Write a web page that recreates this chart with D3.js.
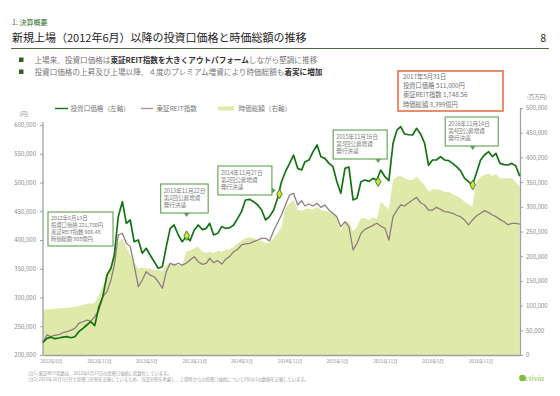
<!DOCTYPE html>
<html>
<head>
<meta charset="utf-8">
<script src="https://cdn.jsdelivr.net/npm/d3@7"></script>
<style>
  body { margin: 0; background: #fff; }
  svg { font-family: "Noto Sans CJK JP", "Noto Sans", sans-serif; }
</style>
</head>
<body>
<svg id="chart" width="560" height="396"></svg>
<script>
// months of the listing period, two samples per month (1st and 16th)
const months = [
  "2012-06", "2012-07", "2012-08", "2012-09", "2012-10", "2012-11", "2012-12",
  "2013-01", "2013-02", "2013-03", "2013-04", "2013-05", "2013-06", "2013-07", "2013-08", "2013-09", "2013-10", "2013-11", "2013-12",
  "2014-01", "2014-02", "2014-03", "2014-04", "2014-05", "2014-06", "2014-07", "2014-08", "2014-09", "2014-10", "2014-11", "2014-12",
  "2015-01", "2015-02", "2015-03", "2015-04", "2015-05", "2015-06", "2015-07", "2015-08", "2015-09", "2015-10", "2015-11", "2015-12",
  "2016-01", "2016-02", "2016-03", "2016-04", "2016-05", "2016-06", "2016-07", "2016-08", "2016-09", "2016-10", "2016-11", "2016-12",
  "2017-01", "2017-02", "2017-03", "2017-04", "2017-05"
];
const lastDate = "2017-05-31";

// 投資口価格 (円)
const price = [
  221750, 229000, 231000, 228400, 229600, 231000, 232000, 230000, 231800, 240500,
  246400, 252200, 257900, 251000, 284000, 301400, 339100, 350800, 373900, 440500,
  466600, 429000, 434800, 397000, 400000, 376900, 385600, 373900, 362300, 350800,
  353600, 388400, 420300, 426100, 408700, 397000, 405700, 399000, 417400, 426100,
  418000, 420300, 429000, 408700, 411600, 423200, 420300, 421000, 426100, 437700,
  449300, 469600, 470700, 466700, 460900, 452200, 434800, 440600, 452200, 472500,
  501400, 518800, 533300, 547800, 524600, 521700, 536200, 539100, 553600, 565200,
  544900, 542000, 533300, 527500, 501400, 481200, 524600, 527000, 469600, 472500,
  501400, 504300, 502000, 507200, 504300, 521700, 510100, 503200, 568100, 591300,
  597100, 584400, 583000, 582600, 594200, 584400, 568100, 530000, 539100, 539100,
  544900, 539100, 538000, 533300, 527500, 520600, 507200, 501400, 495700, 516000,
  539100, 547800, 553600, 544900, 550700, 533300, 531000, 530400, 533300, 528700,
  511000
];

// 東証REIT指数 (points)
const reitIndex = [
  906.48, 960, 948, 958, 962, 976, 983, 995, 1007, 1043,
  1054, 1066, 1058, 1090, 1137, 1232, 1268, 1351, 1457, 1671,
  1683, 1612, 1588, 1457, 1303, 1351, 1410, 1386, 1374, 1339,
  1292, 1410, 1470, 1457, 1470, 1457, 1470, 1493, 1516, 1481,
  1462, 1469, 1505, 1474, 1488, 1464, 1498, 1517, 1552, 1569,
  1600, 1607, 1611, 1623, 1635, 1647, 1647, 1628, 1701, 1758,
  1813, 1884, 1955, 1967, 1884, 1915, 1877, 1891, 1877, 1896,
  1867, 1884, 1848, 1825, 1801, 1730, 1765, 1730, 1564, 1611,
  1682, 1711, 1725, 1739, 1754, 1735, 1718, 1635, 1801, 1848,
  1884, 1877, 1900, 1919, 1938, 1900, 1884, 1848, 1848, 1867,
  1853, 1837, 1834, 1825, 1811, 1801, 1777, 1742, 1777, 1806,
  1825, 1844, 1830, 1813, 1801, 1782, 1765, 1744, 1754, 1754,
  1748.56
];

// 時価総額 (百万円)
const marketCap = [
  90800, 92400, 92800, 93500, 94000, 94500, 95500, 96500, 97000, 99500,
  101000, 103000, 104500, 106000, 121000, 138000, 165000, 179000, 206000, 228000,
  236000, 219000, 202000, 186000, 175000, 177000, 175000, 175000, 172000, 172000,
  169000, 182000, 186000, 186000, 182000, 182000, 209000, 212000, 216000, 219000,
  209000, 207100, 209200, 205800, 211200, 209200, 212500, 213900, 219300, 226000,
  231400, 236200, 238200, 236200, 232800, 231400, 226000, 227400, 236200, 246300,
  259800, 296900, 307000, 313800, 293500, 292200, 294900, 296900, 293500, 300300,
  293500, 292200, 290100, 286800, 280000, 253000, 267900, 269900, 249600, 259800,
  276600, 276600, 273300, 278700, 274600, 310400, 301600, 294900, 354200, 361000,
  362300, 357600, 354200, 354200, 361000, 352900, 344100, 330600, 335300, 335300,
  334000, 330600, 330000, 325900, 321900, 317100, 310400, 305600, 300300, 350900,
  361000, 364400, 367700, 362300, 366400, 357600, 357600, 357600, 357600, 350000,
  339900
];

const xTickLabels = [
  "2012年6月", "2012年11月", "2013年5月", "2013年11月", "2014年5月", "2014年11月",
  "2015年5月", "2015年11月", "2016年5月", "2016年11月", "2017年5月"
];
const leftTicks = [200000, 250000, 300000, 350000, 400000, 450000, 500000, 550000, 600000];
const rightTicks = [0, 50000, 100000, 150000, 200000, 250000, 300000, 350000, 400000, 450000, 500000];

// 公募増資の発行決議 (at = where the reference draws the marker on its trading-day axis)
const offerings = [
  { label: "2013年11月22日", round: "第1回公募増資", at: "2013-12-03", price: 407500 },
  { label: "2014年11月27日", round: "第2回公募増資", at: "2014-11-23", price: 480000 },
  { label: "2015年11月16日", round: "第3回公募増資", at: "2015-12-06", price: 501400 },
  { label: "2016年11月14日", round: "第4回公募増資", at: "2016-12-02", price: 495700 }
];
const ipoLines = ["2012年6月13日", "投資口価格 221,750円", "東証REIT指数 906.48", "時価総額 908億円"];
const latestLines = ["2017年5月31日", "投資口価格 511,000円", "東証REIT指数 1,748.56", "時価総額 3,399億円"];

// layout of the offering call-outs relative to their marker
const calloutLayout = [
  { dx: -26, top: 184, w: 47.5, pointer: "down" },
  { dx: -61.5, top: 166, w: 54, pointer: "right" },
  { dx: -45, top: 130, w: 54, pointer: "down" },
  { dx: -27.5, top: 117, w: 53, pointer: "down" }
];

const parse = d3.timeParse("%Y-%m-%d");
const dates = months.flatMap((m) => [parse(m + "-01"), parse(m + "-16")]);
dates.push(parse(lastDate));

const dataset = dates.map((d, i) => ({
  date: d,
  price: price[i],
  reit: (reitIndex[i] * price[0]) / reitIndex[0],
  cap: marketCap[i]
}));

const svg = d3.select("#chart");
const grey = "#8a8a8a";

// header
svg.append("text").attr("x", 12).attr("y", 24.5)
  .attr("font-size", 7).attr("fill", "#2f6b1f").text("1. 決算概要");
svg.append("text").attr("x", 12).attr("y", 41.5)
  .attr("font-size", 11).attr("fill", "#222")
  .text("新規上場（2012年6月）以降の投資口価格と時価総額の推移");
svg.append("text").attr("x", 546).attr("y", 41.5).attr("text-anchor", "end")
  .attr("font-size", 10).attr("fill", "#222").text("8");
svg.append("line").attr("x1", 11).attr("x2", 549).attr("y1", 48.5).attr("y2", 48.5)
  .attr("stroke", "#4b6b3b").attr("stroke-width", 1.2);

const bullets = [
  [["上場来、投資口価格は", false], ["東証REIT指数を大きくアウトパフォーム", true], ["しながら堅調に推移", false]],
  [["投資口価格の上昇及び上場以降、４度のプレミアム増資により時価総額も", false], ["着実に増加", true]]
];
bullets.forEach((parts, i) => {
  const y = 60 + i * 12;
  svg.append("rect").attr("x", 19).attr("y", y - 2.5).attr("width", 4.5).attr("height", 4.5)
    .attr("fill", "#345f24");
  const t = svg.append("text").attr("x", 34.5).attr("y", y + 2.6).attr("font-size", 7.6);
  parts.forEach(([s, b]) => {
    t.append("tspan").text(s)
      .attr("fill", b ? "#333" : "#777")
      .attr("font-weight", b ? "bold" : "normal");
  });
});

// scales
const x = d3.scaleTime()
  .domain([parse("2012-06-01"), parse("2017-06-01")])
  .range([43, 520]);
const yL = d3.scaleLinear().domain([200000, 600000]).range([355, 125]);
const yR = d3.scaleLinear().domain([0, 500000]).range([355, 108]);

// market cap area
svg.append("path").datum(dataset)
  .attr("fill", "#dfe9aa")
  .attr("d", d3.area().x((d) => x(d.date)).y0(yR(0)).y1((d) => yR(d.cap)));

// axes
const fmt = d3.format(",");
const leftAxis = svg.append("g").attr("transform", "translate(43,0)")
  .call(d3.axisLeft(yL).tickValues(leftTicks).tickSize(3).tickSizeOuter(0).tickPadding(4).tickFormat(fmt));
const rightAxis = svg.append("g").attr("transform", "translate(520,0)")
  .call(d3.axisRight(yR).tickValues(rightTicks).tickSize(3).tickSizeOuter(0).tickPadding(3).tickFormat(fmt));
const tickDates = d3.timeMonth.every(6).range(parse("2012-06-01"), parse("2017-06-02"));
const bottomAxis = svg.append("g").attr("transform", "translate(0,355)")
  .call(d3.axisBottom(x).tickValues(tickDates).tickSize(0).tickPadding(5)
    .tickFormat((d, i) => xTickLabels[i]));

[leftAxis, rightAxis, bottomAxis].forEach((g) => {
  g.select(".domain").attr("stroke", "#a0a0a0").attr("stroke-width", 1.3);
  g.selectAll(".tick line").attr("stroke", "#a0a0a0");
  g.selectAll(".tick text").attr("fill", grey).attr("font-size", 6)
    .attr("font-family", "'Noto Sans CJK JP', sans-serif");
});
bottomAxis.selectAll(".tick text").attr("font-size", 4.6);
bottomAxis.selectAll(".tick text").filter((d, i) => i === xTickLabels.length - 1)
  .attr("text-anchor", "end").attr("dx", 3);
leftAxis.select(".domain").attr("d", "M0,122V355");

svg.append("text").attr("x", 24).attr("y", 116).attr("text-anchor", "middle")
  .attr("font-size", 5.5).attr("fill", grey).text("(円)");
svg.append("text").attr("x", 527).attr("y", 99).attr("font-size", 5.5)
  .attr("fill", grey).text("(百万円)");

// lines
svg.append("path").datum(dataset)
  .attr("fill", "none").attr("stroke", "#8d7e7e").attr("stroke-width", 1.3)
  .attr("stroke-linejoin", "round")
  .attr("d", d3.line().x((d) => x(d.date)).y((d) => yL(d.reit)));
svg.append("path").datum(dataset)
  .attr("fill", "none").attr("stroke", "#137313").attr("stroke-width", 1.7)
  .attr("stroke-linejoin", "round")
  .attr("d", d3.line().x((d) => x(d.date)).y((d) => yL(d.price)));

// legend
const legend = svg.append("g").attr("font-size", 6.6).attr("fill", "#777");
legend.append("line").attr("x1", 55).attr("x2", 68).attr("y1", 108.5).attr("y2", 108.5)
  .attr("stroke", "#137313").attr("stroke-width", 1.4);
legend.append("text").attr("x", 70.5).attr("y", 110.8).text("投資口価格（左軸）");
legend.append("line").attr("x1", 141).attr("x2", 153).attr("y1", 108.5).attr("y2", 108.5)
  .attr("stroke", "#a89898").attr("stroke-width", 1.4);
legend.append("text").attr("x", 156.5).attr("y", 110.8).text("東証REIT指数");
legend.append("line").attr("x1", 218).attr("x2", 234).attr("y1", 108.5).attr("y2", 108.5)
  .attr("stroke", "#dfe9aa").attr("stroke-width", 4);
legend.append("text").attr("x", 238.5).attr("y", 110.8).text("時価総額（右軸）");

// call-out boxes
const boxGreen = "#5f9f50";
function textBox(left, top, w, h, lines, opt) {
  svg.append("rect").attr("x", left).attr("y", top).attr("width", w).attr("height", h)
    .attr("fill", "#fff").attr("stroke", opt.stroke).attr("stroke-width", opt.strokeW);
  lines.forEach((s, i) => {
    svg.append("text").attr("x", left + opt.pad).attr("y", top + opt.first + i * opt.step)
      .attr("font-size", opt.size).attr("fill", opt.color).text(s);
  });
}
const smallBox = { stroke: boxGreen, strokeW: 1.1, pad: 3, size: 5.3, step: 7, first: 8.2, color: "#7a7a7a" };

textBox(x(dates[0]) + 5, 212, 65, 34, ipoLines, smallBox);

offerings.forEach((o, i) => {
  const lay = calloutLayout[i];
  const mx = x(parse(o.at));
  const my = yL(o.price);
  const left = mx + lay.dx;
  const h = 29;
  textBox(left, lay.top, lay.w, h, [o.label, o.round, "発行決議"],
    { ...smallBox, size: 5.6, first: 9 });
  if (lay.pointer === "down") {
    const b = lay.top + h;
    svg.append("path").attr("fill", boxGreen)
      .attr("d", `M${mx - 2.8},${b}L${mx + 2.8},${b}L${mx},${b + 4}Z`);
  } else {
    const r = left + lay.w;
    const py = lay.top + h - 4.5;
    svg.append("path").attr("fill", boxGreen)
      .attr("d", `M${r},${py - 2.8}L${r},${py + 2.8}L${r + 4},${py}Z`);
  }
  svg.append("path")
    .attr("transform", `translate(${mx},${my})`)
    .attr("d", d3.symbol(d3.symbolDiamond, 26)())
    .attr("fill", "#d2e23c").attr("stroke", "#2d7a1d").attr("stroke-width", 0.9);
});

// latest figures
textBox(398, 71, 105, 40, latestLines,
  { stroke: "#e2683c", strokeW: 1.5, pad: 5, size: 6.3, step: 9.3, first: 7.6, color: "#707070" });

// notes and logo
svg.append("text").attr("x", 28).attr("y", 374.6).attr("font-size", 4.3).attr("fill", "#999")
  .text("(注1) 東証REIT指数は、2012年6月13日の投資口価格に指数化しています。");
svg.append("text").attr("x", 28).attr("y", 380.6).attr("font-size", 4.3).attr("fill", "#999")
  .text("(注2) 2015年10月1日付で投資口分割を実施しているため、当該分割を考慮し、上場時からの投資口価格について2分の1の数値を記載しています。");
svg.append("circle").attr("cx", 522.5).attr("cy", 378).attr("r", 3.3).attr("fill", "#7cb83a");
svg.append("text").attr("x", 520).attr("y", 380.8).attr("font-size", 8.5)
  .attr("font-style", "italic").attr("font-family", "'Liberation Serif', serif")
  .attr("fill", "#8cc63f").text("Activia");
</script>
</body>
</html>
